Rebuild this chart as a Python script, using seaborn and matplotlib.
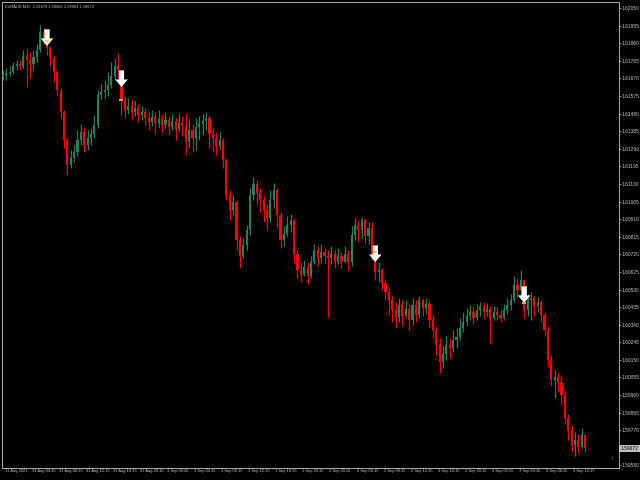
import numpy as np
import pandas as pd
import matplotlib
matplotlib.use("Agg")
import matplotlib.pyplot as plt
import matplotlib.transforms as mtransforms
import seaborn as sns

# Chart header (symbol, timeframe, O H L C of the last bar)
header_text = "EURAUD,M15  1.59679 1.59685 1.59661 1.59672"

# Price data (30 minute steps, 31 Aug 00:00 -> 3 Sep)
first_open = 1.61677
closes = [
    1.61688, 1.61699, 1.61704, 1.61737, 1.61747, 1.61737, 1.61791, 1.61769, 1.61747, 1.61785,
    1.61823, 1.61920, 1.61888, 1.61834, 1.61780, 1.61704, 1.61607, 1.61488, 1.61337, 1.61202,
    1.61240, 1.61272, 1.61337, 1.61380, 1.61310, 1.61348, 1.61369, 1.61418, 1.61580, 1.61596,
    1.61607, 1.61634, 1.61683, 1.61737, 1.61715, 1.61553, 1.61499, 1.61521, 1.61488, 1.61510,
    1.61472, 1.61488, 1.61456, 1.61434, 1.61461, 1.61429, 1.61450, 1.61418, 1.61445, 1.61407,
    1.61440, 1.61396, 1.61429, 1.61413, 1.61326, 1.61391, 1.61348, 1.61407, 1.61423, 1.61440,
    1.61456, 1.61369, 1.61348, 1.61305, 1.61337, 1.61229, 1.61040, 1.60959, 1.61002, 1.60797,
    1.60711, 1.60770, 1.60851, 1.61040, 1.61099, 1.61051, 1.61013, 1.60959, 1.60916, 1.61013,
    1.61067, 1.60932, 1.60797, 1.60829, 1.60878, 1.60905, 1.60721, 1.60635, 1.60608, 1.60651,
    1.60603, 1.60678, 1.60743, 1.60700, 1.60732, 1.60711, 1.60700, 1.60721, 1.60678, 1.60711,
    1.60678, 1.60721, 1.60678, 1.60824, 1.60878, 1.60851, 1.60905, 1.60819, 1.60862, 1.60716,
    1.60624, 1.60635, 1.60565, 1.60516, 1.60473, 1.60419, 1.60376, 1.60446, 1.60387, 1.60424,
    1.60365, 1.60446, 1.60392, 1.60473, 1.60430, 1.60451, 1.60365, 1.60311, 1.60230, 1.60138,
    1.60181, 1.60230, 1.60214, 1.60257, 1.60273, 1.60322, 1.60354, 1.60387, 1.60408, 1.60376,
    1.60419, 1.60441, 1.60408, 1.60424, 1.60376, 1.60408, 1.60392, 1.60376, 1.60419, 1.60446,
    1.60473, 1.60554, 1.60527, 1.60581, 1.60419, 1.60473, 1.60484, 1.60441, 1.60457, 1.60392,
    1.60311, 1.60149, 1.60041, 1.60057, 1.60030, 1.59960, 1.59836, 1.59771, 1.59690, 1.59717,
    1.59679, 1.59744, 1.59672,
]
highs = [
    1.61715, 1.61726, 1.61737, 1.61758, 1.61769, 1.61769, 1.61823, 1.61834, 1.61812, 1.61823,
    1.61855, 1.61958, 1.61942, 1.61855, 1.61845, 1.61791, 1.61715, 1.61618, 1.61499, 1.61348,
    1.61283, 1.61310, 1.61391, 1.61423, 1.61402, 1.61391, 1.61402, 1.61472, 1.61607, 1.61639,
    1.61661, 1.61704, 1.61758, 1.61780, 1.61807, 1.61618, 1.61575, 1.61564, 1.61553, 1.61553,
    1.61531, 1.61521, 1.61510, 1.61488, 1.61499, 1.61488, 1.61499, 1.61477, 1.61488, 1.61467,
    1.61477, 1.61456, 1.61477, 1.61467, 1.61483, 1.61456, 1.61423, 1.61456, 1.61467, 1.61477,
    1.61488, 1.61467, 1.61402, 1.61380, 1.61380, 1.61348, 1.61240, 1.61067, 1.61045, 1.61013,
    1.60819, 1.60808, 1.60878, 1.61078, 1.61137, 1.61121, 1.61078, 1.61035, 1.60991, 1.61067,
    1.61105, 1.61078, 1.60948, 1.60873, 1.60927, 1.60937, 1.60916, 1.60743, 1.60678, 1.60689,
    1.60678, 1.60711, 1.60775, 1.60765, 1.60775, 1.60754, 1.60743, 1.60765, 1.60743, 1.60754,
    1.60732, 1.60765, 1.60743, 1.60873, 1.60916, 1.60905, 1.60921, 1.60916, 1.60894, 1.60894,
    1.60743, 1.60678, 1.60646, 1.60581, 1.60538, 1.60495, 1.60462, 1.60484, 1.60473, 1.60473,
    1.60451, 1.60484, 1.60473, 1.60495, 1.60484, 1.60484, 1.60473, 1.60397, 1.60333, 1.60268,
    1.60225, 1.60279, 1.60268, 1.60311, 1.60322, 1.60376, 1.60408, 1.60430, 1.60446, 1.60441,
    1.60451, 1.60462, 1.60462, 1.60457, 1.60441, 1.60441, 1.60435, 1.60419, 1.60451, 1.60484,
    1.60505, 1.60603, 1.60592, 1.60635, 1.60570, 1.60505, 1.60516, 1.60495, 1.60489, 1.60473,
    1.60408, 1.60333, 1.60176, 1.60095, 1.60084, 1.60063, 1.59987, 1.59857, 1.59793, 1.59760,
    1.59749, 1.59782, 1.59749,
]
lows = [
    1.61661, 1.61661, 1.61683, 1.61693, 1.61715, 1.61715, 1.61726, 1.61623, 1.61672, 1.61715,
    1.61758, 1.61812, 1.61855, 1.61796, 1.61737, 1.61650, 1.61575, 1.61456, 1.61294, 1.61148,
    1.61186, 1.61218, 1.61251, 1.61310, 1.61272, 1.61283, 1.61310, 1.61348, 1.61402, 1.61553,
    1.61564, 1.61575, 1.61618, 1.61661, 1.61672, 1.61472, 1.61456, 1.61477, 1.61456, 1.61467,
    1.61434, 1.61445, 1.61418, 1.61391, 1.61413, 1.61369, 1.61402, 1.61380, 1.61402, 1.61364,
    1.61391, 1.61337, 1.61380, 1.61359, 1.61256, 1.61294, 1.61272, 1.61283, 1.61337, 1.61364,
    1.61391, 1.61294, 1.61272, 1.61256, 1.61283, 1.61186, 1.61013, 1.60905, 1.60932, 1.60743,
    1.60646, 1.60700, 1.60743, 1.60824, 1.61013, 1.60986, 1.60948, 1.60894, 1.60851, 1.60894,
    1.60970, 1.60862, 1.60754, 1.60765, 1.60819, 1.60840, 1.60678, 1.60592, 1.60570, 1.60603,
    1.60559, 1.60592, 1.60667, 1.60657, 1.60678, 1.60667, 1.60381, 1.60667, 1.60646, 1.60667,
    1.60646, 1.60678, 1.60635, 1.60657, 1.60797, 1.60786, 1.60808, 1.60775, 1.60775, 1.60689,
    1.60581, 1.60570, 1.60527, 1.60473, 1.60392, 1.60354, 1.60322, 1.60354, 1.60338, 1.60376,
    1.60311, 1.60338, 1.60354, 1.60376, 1.60387, 1.60397, 1.60322, 1.60268, 1.60176, 1.60079,
    1.60106, 1.60149, 1.60160, 1.60192, 1.60214, 1.60257, 1.60300, 1.60333, 1.60365, 1.60343,
    1.60365, 1.60387, 1.60376, 1.60387, 1.60241, 1.60365, 1.60365, 1.60354, 1.60365, 1.60397,
    1.60419, 1.60462, 1.60484, 1.60495, 1.60376, 1.60387, 1.60365, 1.60387, 1.60408, 1.60354,
    1.60279, 1.60117, 1.60009, 1.59944, 1.59976, 1.59906, 1.59803, 1.59717, 1.59652, 1.59631,
    1.59652, 1.59674, 1.59652,
]
last_price = 1.59672

# Sell signals (bar index, arrow tip price) and the small yellow marks
signal_bars = [13, 35, 110, 154]
signal_prices = [1.61845, 1.61623, 1.60678, 1.60457]
mark_prices = [1.61872, 1.61553, 1.60732, 1.60457]

time_labels = ["31 Aug 2021", "31 Aug 04:15", "31 Aug 08:15", "31 Aug 12:15", "31 Aug 16:15",
               "31 Aug 20:15", "1 Sep 00:15", "1 Sep 04:15", "1 Sep 08:15", "1 Sep 12:15",
               "1 Sep 16:15", "1 Sep 20:15", "2 Sep 00:15", "2 Sep 04:15", "2 Sep 08:15",
               "2 Sep 12:15", "2 Sep 16:15", "2 Sep 20:15", "3 Sep 00:15", "3 Sep 04:15",
               "3 Sep 08:15", "3 Sep 12:15"]
price_ticks = [1.62050, 1.61955, 1.61860, 1.61765, 1.61670, 1.61575, 1.61480, 1.61385,
               1.61290, 1.61195, 1.61100, 1.61005, 1.60910, 1.60815, 1.60720, 1.60625,
               1.60530, 1.60435, 1.60340, 1.60245, 1.60150, 1.60055, 1.59960, 1.59865,
               1.59770, 1.59675, 1.59580]

df = pd.DataFrame({"close": closes, "high": highs, "low": lows})
df["open"] = [first_open] + closes[:-1]
df["bar"] = np.arange(len(df))

bull = "#2a7f5a"
bear = "#ff0000"
fg = "#c8c8c8"

sns.set_style("dark", {"axes.facecolor": "black", "figure.facecolor": "black",
                       "axes.edgecolor": fg, "text.color": fg,
                       "xtick.color": fg, "ytick.color": fg})
# narrow fonts first, like the terminal's small labels
plt.rcParams['font.family'] = ['DejaVu Sans Condensed', 'Liberation Sans Narrow', 'Liberation Sans']

fig = plt.figure(figsize=(6.4, 4.8), dpi=100, facecolor='black')
ax = fig.add_axes([2 / 640, 12 / 480, 617 / 640, 465.5 / 480])
ax.set_facecolor('black')

# Candles: wicks then bodies
up = df["close"] >= df["open"]
colors = np.where(up, bull, bear)
wick_lo = df[["low", "open", "close"]].min(axis=1)
wick_hi = df[["high", "open", "close"]].max(axis=1)
ax.vlines(df["bar"], wick_lo, wick_hi, colors=colors, lw=0.9, zorder=2)
body_lo = df[["open", "close"]].min(axis=1)
body_h = (df["close"] - df["open"]).abs()
ax.bar(df["bar"], body_h, bottom=body_lo, width=0.62, color=colors, linewidth=0, zorder=3)

# Signal arrows
for bar, price in zip(signal_bars, signal_prices):
    ax.annotate('', xy=(bar, price), xytext=(0, 12), textcoords='offset points',
                arrowprops=dict(arrowstyle='simple,head_length=0.55,head_width=0.9,tail_width=0.38',
                                fc='white', ec='white', lw=0, shrinkA=0, shrinkB=0,
                                mutation_scale=10), zorder=6)
sns.scatterplot(x=signal_bars, y=mark_prices, marker='_', color='#ffcc00', s=10,
                linewidth=1.2, ax=ax, zorder=7, legend=False)

ax.set_xlim(-0.3, 182.0)
ax.set_ylim(1.59566, 1.62080)
ax.grid(False)

# Time axis
ax.set_xticks(np.arange(len(time_labels)) * 8)
ax.set_xticklabels(time_labels, ha='left', fontsize=2.9, color=fg)
ax.tick_params(axis='x', direction='out', length=3.5, width=0.5, pad=-2.6, colors=fg)
shift = mtransforms.ScaledTranslation(1.5 / 100, 0, fig.dpi_scale_trans)
for lab in ax.get_xticklabels():
    lab.set_transform(lab.get_transform() + shift)

# Price axis on the right
ax.yaxis.tick_right()
ax.set_yticks(price_ticks)
ax.set_yticklabels([f"{p:.5f}" for p in price_ticks], fontsize=3.5, color=fg)
ax.tick_params(axis='y', direction='out', length=1.2, width=0.5, pad=0.6, colors=fg)

for sp in ax.spines.values():
    sp.set_visible(True)
    sp.set_color(fg)
    sp.set_linewidth(0.6)

# Header and current price box
fig.text(5 / 640, 1 - 7 / 480, header_text, fontsize=2.9, color=fg, ha='left', va='center')
ax.annotate(f"{last_price:.5f}", xy=(1, last_price), xycoords=('axes fraction', 'data'),
            xytext=(1.2, 0), textcoords='offset points', fontsize=3.5, color='black',
            ha='left', va='center', annotation_clip=False, zorder=10,
            bbox=dict(boxstyle='square,pad=0.25', fc='#c0c0c0', ec='none'))
ax.text(0.9885, 0.02, '\u2195', transform=ax.transAxes, fontsize=4, color='#909090',
        ha='center', va='center')

fig.savefig('out.png', dpi=100, facecolor='black')
